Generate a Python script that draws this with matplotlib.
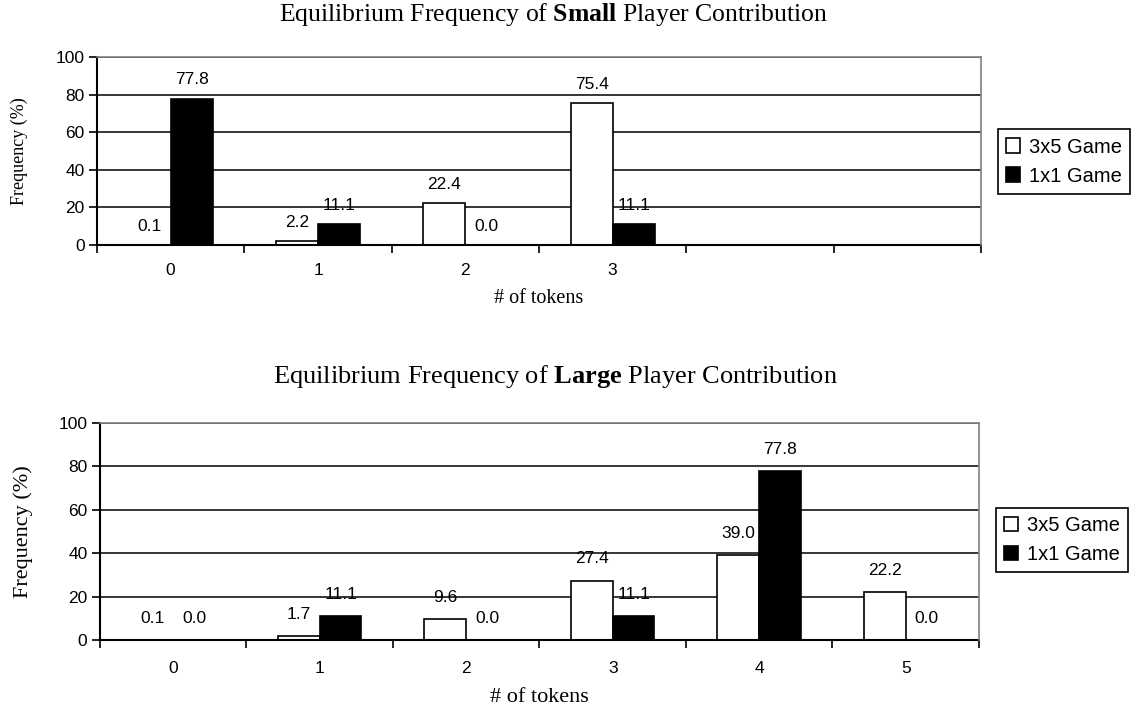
import matplotlib
matplotlib.use("Agg")
import matplotlib.pyplot as plt
import numpy as np

plt.rcParams["mathtext.fontset"] = "custom"
plt.rcParams["mathtext.rm"] = "Liberation Serif"
plt.rcParams["mathtext.bf"] = "Liberation Serif:bold"

SANS = "Liberation Sans"
SERIF = "Liberation Serif"

# data
series_names = ["3x5 Game", "1x1 Game"]

small_labels = ["0", "1", "2", "3", "", ""]
small_3x5 = [0.1, 2.2, 22.4, 75.4]
small_1x1 = [77.8, 11.1, 0.0, 11.1]

large_labels = ["0", "1", "2", "3", "4", "5"]
large_3x5 = [0.1, 1.7, 9.6, 27.4, 39.0, 22.2]
large_1x1 = [0.0, 11.1, 0.0, 11.1, 77.8, 0.0]

y_ticks = [0, 20, 40, 60, 80, 100]

BAR_W = 0.285
LABEL_OFFSET = 10
TICK_FS = 12.5


def draw_panel(ax, cat_labels, vals_a, vals_b, xpad, leg_y):
    n_cat = len(cat_labels)
    xa = np.arange(len(vals_a))
    xb = np.arange(len(vals_b))
    bars_a = ax.bar(xa - BAR_W / 2, vals_a, BAR_W, color="white",
                    edgecolor="black", linewidth=1.2, label=series_names[0])
    bars_b = ax.bar(xb + BAR_W / 2, vals_b, BAR_W, color="black",
                    edgecolor="black", linewidth=1.2, label=series_names[1])
    for x, v in zip(xa - BAR_W / 2, vals_a):
        ax.text(x, v + LABEL_OFFSET, f"{v:.1f}", ha="center", va="center",
                fontsize=TICK_FS, family=SANS)
    for x, v in zip(xb + BAR_W / 2, vals_b):
        ax.text(x, v + LABEL_OFFSET, f"{v:.1f}", ha="center", va="center",
                fontsize=TICK_FS, family=SANS)

    ax.set_xlim(-0.5, n_cat - 0.5)
    ax.set_ylim(0, 100)
    ax.set_yticks(y_ticks)
    ax.set_yticklabels([str(t) for t in y_ticks], family=SANS, fontsize=TICK_FS)
    ax.set_xticks(np.arange(n_cat + 1) - 0.5)
    ax.set_xticklabels([])
    ax.set_xticks(np.arange(n_cat), minor=True)
    ax.set_xticklabels(cat_labels, minor=True, family=SANS, fontsize=TICK_FS)
    ax.tick_params(axis="x", which="major", direction="out", length=6, width=1.2)
    ax.tick_params(axis="x", which="minor", length=0, pad=xpad)
    ax.tick_params(axis="y", direction="out", length=6, width=1.2, pad=3)

    ax.set_axisbelow(True)
    ax.yaxis.grid(True, color="black", linewidth=1.1)
    for side in ("left", "bottom"):
        ax.spines[side].set_color("black")
        ax.spines[side].set_linewidth(1.5)
    for side in ("top", "right"):
        ax.spines[side].set_color("#808080")
        ax.spines[side].set_linewidth(1.2)
        ax.spines[side].set_zorder(3)

    leg = ax.legend(handles=[bars_a, bars_b], loc="center left",
                    bbox_to_anchor=(1.019, leg_y), frameon=True, fancybox=False,
                    framealpha=1, edgecolor="black", handlelength=0.7,
                    handleheight=0.7, handletextpad=0.45, labelspacing=0.5,
                    borderpad=0.4, borderaxespad=0,
                    prop={"family": SANS, "size": 14.5})
    leg.get_frame().set_linewidth(1.2)


fig = plt.figure(figsize=(11.32, 7.12), dpi=100)
ax1 = fig.add_axes([0.0857, 0.6559, 0.7809, 0.2640])
ax2 = fig.add_axes([0.0883, 0.1011, 0.7765, 0.3048])

draw_panel(ax1, small_labels, small_3x5, small_1x1, 13, 0.444)
draw_panel(ax2, large_labels, large_3x5, large_1x1, 15, 0.46)

fig.text(553 / 1132, 1 - 15 / 712, r"Equilibrium Frequency of $\mathbf{Small}$ Player Contribution",
         ha="center", va="center", family=SERIF, fontsize=18.5)
fig.text(555 / 1132, 1 - 377 / 712, r"Equilibrium Frequency of $\mathbf{Large}$ Player Contribution",
         ha="center", va="center", family=SERIF, fontsize=19)

ax1.set_xlabel("# of tokens", family=SERIF, fontsize=14.5)
ax1.xaxis.set_label_coords(0.5, -0.235)
ax1.set_ylabel("Frequency (%)", family=SERIF, fontsize=13)
ax1.yaxis.set_label_coords(-0.078, 0.5)

ax2.set_xlabel("# of tokens", family=SERIF, fontsize=16)
ax2.xaxis.set_label_coords(0.5, -0.22)
ax2.set_ylabel("Frequency (%)", family=SERIF, fontsize=16)
ax2.yaxis.set_label_coords(-0.076, 0.5)

fig.savefig("out.png", dpi=100)
